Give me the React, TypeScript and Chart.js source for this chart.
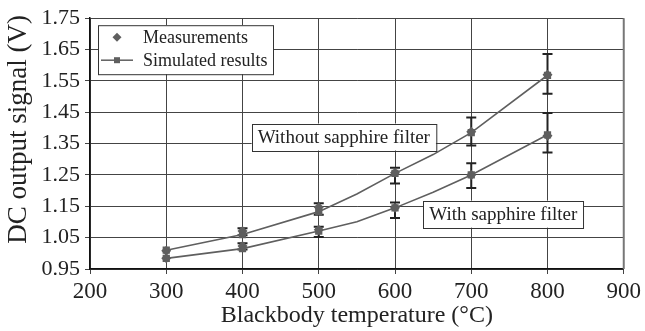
import React, { useEffect, useRef } from "react";
import { Chart, registerables } from "chart.js";

Chart.register(...registerables);

const xTicks = [200, 300, 400, 500, 600, 700, 800, 900];
const yTicks = [0.95, 1.05, 1.15, 1.25, 1.35, 1.45, 1.55, 1.65, 1.75];

const simX = [300, 400, 500, 550, 600, 650, 700, 800];
const simWithout = [1.01, 1.06, 1.133, 1.189, 1.255, 1.315, 1.385, 1.568];
const simWith = [0.984, 1.015, 1.071, 1.101, 1.145, 1.195, 1.25, 1.378];

const measX = [300, 400, 500, 600, 700, 800];
const measWithout = [1.008, 1.071, 1.147, 1.257, 1.388, 1.57];
const measWith = [0.984, 1.023, 1.075, 1.145, 1.25, 1.375];

const errWithoutLow = [null, 1.058, 1.123, 1.223, 1.344, 1.509];
const errWithoutHigh = [null, 1.08, 1.16, 1.273, 1.433, 1.636];
const errWithLow = [null, 1.012, 1.052, 1.113, 1.208, 1.322];
const errWithHigh = [null, 1.032, 1.085, 1.162, 1.287, 1.448];

const legendLabels = ["Measurements", "Simulated results"];
const annotationTexts = ["Without sapphire filter", "With sapphire filter"];
const annotationX = [412, 637];
const annotationY = [1.371, 1.125];
const yTitle = "DC output signal (V)";
const yTitleCenter = 1.395;

const FONT = "'Liberation Serif', 'Times New Roman', serif";
const MARK = "#5f5f5f";

export default function App() {
  const ref = useRef<HTMLCanvasElement | null>(null);

  useEffect(() => {
    document.body.style.margin = "0";
    const canvas = ref.current!;

    const errorBars = {
      id: "errorBars",
      beforeDatasetsDraw(chart: any) {
        const { ctx, scales } = chart;
        const xs = scales.x, ys = scales.y;
        ctx.save();
        ctx.strokeStyle = "#222";
        ctx.lineWidth = 2;
        const draw = (lo: (number | null)[], hi: (number | null)[]) => {
          measX.forEach((xv, i) => {
            const l = lo[i], h = hi[i];
            if (l == null || h == null) return;
            const px = xs.getPixelForValue(xv);
            const pl = ys.getPixelForValue(l);
            const ph = ys.getPixelForValue(h);
            ctx.beginPath();
            ctx.moveTo(px, pl);
            ctx.lineTo(px, ph);
            ctx.moveTo(px - 5, pl);
            ctx.lineTo(px + 5, pl);
            ctx.moveTo(px - 5, ph);
            ctx.lineTo(px + 5, ph);
            ctx.stroke();
          });
        };
        draw(errWithoutLow, errWithoutHigh);
        draw(errWithLow, errWithHigh);
        ctx.restore();
      },
    };

    const decorations = {
      id: "decorations",
      afterDraw(chart: any) {
        const { ctx, chartArea, scales } = chart;
        ctx.save();
        // right border
        ctx.strokeStyle = "#777";
        ctx.lineWidth = 2;
        ctx.beginPath();
        ctx.moveTo(chartArea.right, chartArea.top);
        ctx.lineTo(chartArea.right, chartArea.bottom);
        ctx.stroke();

        // y title
        ctx.save();
        ctx.font = `27px ${FONT}`;
        ctx.fillStyle = "#222";
        ctx.textAlign = "center";
        ctx.textBaseline = "middle";
        ctx.translate(19, scales.y.getPixelForValue(yTitleCenter));
        ctx.rotate(-Math.PI / 2);
        ctx.fillText(yTitle, 0, 0);
        ctx.restore();

        // legend
        const lx = chartArea.left + 8, ly = chartArea.top + 7;
        const lw = 175, lh = 49;
        ctx.fillStyle = "#fff";
        ctx.fillRect(lx, ly, lw, lh);
        ctx.strokeStyle = "#333";
        ctx.lineWidth = 1;
        ctx.strokeRect(lx + 0.5, ly + 0.5, lw, lh);
        ctx.font = `18px ${FONT}`;
        ctx.textBaseline = "middle";
        ctx.textAlign = "left";
        const dx = lx + 19, dy1 = ly + 12;
        ctx.fillStyle = MARK;
        ctx.beginPath();
        ctx.moveTo(dx, dy1 - 4.5);
        ctx.lineTo(dx + 4.5, dy1);
        ctx.lineTo(dx, dy1 + 4.5);
        ctx.lineTo(dx - 4.5, dy1);
        ctx.closePath();
        ctx.fill();
        const dy2 = ly + 35;
        ctx.strokeStyle = MARK;
        ctx.lineWidth = 1.5;
        ctx.beginPath();
        ctx.moveTo(lx + 3, dy2);
        ctx.lineTo(lx + 35, dy2);
        ctx.stroke();
        ctx.fillRect(dx - 3, dy2 - 3, 6, 6);
        ctx.fillStyle = "#222";
        ctx.fillText(legendLabels[0], lx + 45, dy1 + 1);
        ctx.fillText(legendLabels[1], lx + 45, dy2 + 1);

        // annotations
        ctx.font = `19px ${FONT}`;
        annotationTexts.forEach((t, i) => {
          const ax = scales.x.getPixelForValue(annotationX[i]);
          const ay = scales.y.getPixelForValue(annotationY[i]);
          const tw = ctx.measureText(t).width;
          const bw = tw + 12, bh = 27;
          ctx.fillStyle = "#fff";
          ctx.fillRect(ax, ay - bh / 2, bw, bh);
          ctx.strokeStyle = "#333";
          ctx.lineWidth = 1;
          ctx.strokeRect(Math.round(ax) + 0.5, Math.round(ay - bh / 2) + 0.5, bw, bh);
          ctx.fillStyle = "#222";
          ctx.fillText(t, ax + 6, ay + 1);
        });
        ctx.restore();
      },
    };

    const chart = new Chart(canvas, {
      type: "line",
      data: {
        datasets: [
          {
            label: "Simulated without",
            data: simX.map((x, i) => ({ x, y: simWithout[i] })),
            borderColor: MARK,
            backgroundColor: MARK,
            borderWidth: 1.6,
            pointStyle: "rect",
            pointRadius: simX.map((x) => (measX.includes(x) ? 4 : 0)),
            tension: 0,
          },
          {
            label: "Simulated with",
            data: simX.map((x, i) => ({ x, y: simWith[i] })),
            borderColor: MARK,
            backgroundColor: MARK,
            borderWidth: 1.6,
            pointStyle: "rect",
            pointRadius: simX.map((x) => (measX.includes(x) ? 4 : 0)),
            tension: 0,
          },
          {
            label: "Measurements without",
            data: measX.map((x, i) => ({ x, y: measWithout[i] })),
            showLine: false,
            borderColor: MARK,
            backgroundColor: MARK,
            pointStyle: "rectRot",
            pointRadius: 5,
            pointBorderWidth: 0,
          },
          {
            label: "Measurements with",
            data: measX.map((x, i) => ({ x, y: measWith[i] })),
            showLine: false,
            borderColor: MARK,
            backgroundColor: MARK,
            pointStyle: "rectRot",
            pointRadius: 5,
            pointBorderWidth: 0,
          },
        ],
      },
      options: {
        responsive: false,
        animation: false,
        layout: { padding: { top: 15, right: 18, left: 0, bottom: 0 } },
        plugins: { legend: { display: false }, tooltip: { enabled: false } },
        scales: {
          x: {
            type: "linear",
            min: 200,
            max: 900,
            afterBuildTicks: (s: any) => {
              s.ticks = xTicks.map((v) => ({ value: v }));
            },
            afterFit: (s: any) => {
              s.height = 62;
            },
            grid: { color: "#444", lineWidth: 1, tickLength: 5 },
            border: { color: "#111", width: 1.5 },
            ticks: {
              color: "#222",
              font: { family: FONT, size: 23 },
              padding: 4,
              maxRotation: 0,
            },
            title: {
              display: true,
              text: "Blackbody temperature (°C)",
              color: "#222",
              font: { family: FONT, size: 24 },
              padding: { top: 0, bottom: 1 },
            },
          },
          y: {
            type: "linear",
            min: 0.95,
            max: 1.75,
            afterBuildTicks: (s: any) => {
              s.ticks = yTicks.map((v) => ({ value: v }));
            },
            afterFit: (s: any) => {
              s.width = 90;
            },
            grid: { color: "#444", lineWidth: 1, tickLength: 5 },
            border: { color: "#111", width: 1.5 },
            ticks: {
              color: "#222",
              font: { family: FONT, size: 22 },
              padding: 5,
              callback: (v: any) => Number(v).toFixed(2),
            },
            title: { display: false },
          },
        },
      },
      plugins: [errorBars, decorations],
    } as any);

    return () => chart.destroy();
  }, []);

  return (
    <div style={{ width: 645, height: 331, background: "#fff" }}>
      <canvas ref={ref} width={645} height={331} />
    </div>
  );
}
